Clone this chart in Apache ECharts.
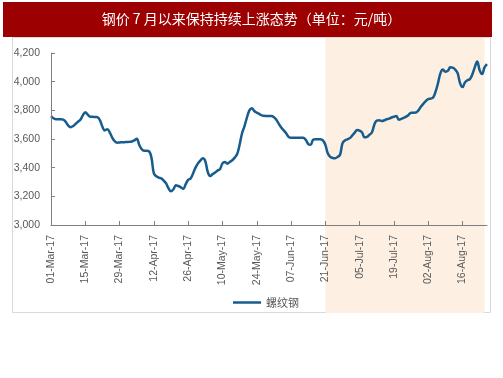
<!DOCTYPE html>
<html>
<head>
<meta charset="utf-8">
<script src="https://cdn.jsdelivr.net/npm/echarts@6/dist/echarts.min.js"></script>
<style>html,body{margin:0;padding:0;background:#fff;}#c{width:503px;height:378px;}</style>
</head>
<body>
<div id="c"></div>
<script>
var titleText = '钢价 7 月以来保持持续上涨态势（单位：元/吨）';
var seriesName = '螺纹钢';
var startDate = '2017-03-01';
var dayCount = 179;
var shadeStart = '21-Jun-17';
var shadeEnd = '25-Aug-17';
var yTicks = [3000, 3200, 3400, 3600, 3800, 4000, 4200];
var rebar = [
3760,3745,3738,3737,3737,3735,3720,3695,3682,3690,
3705,3720,3735,3765,3787,3770,3755,3755,3753,3752,
3730,3685,3660,3668,3645,3610,3585,3574,3576,3577,
3578,3579,3580,3583,3590,3602,3560,3530,3518,3518,
3515,3470,3360,3340,3330,3325,3310,3290,3255,3235,
3250,3278,3272,3263,3252,3285,3315,3325,3360,3400,
3430,3450,3465,3445,3370,3342,3355,3366,3380,3390,
3430,3440,3428,3440,3452,3470,3495,3560,3640,3690,
3750,3800,3815,3795,3784,3775,3765,3762,3761,3760,
3760,3752,3735,3705,3680,3660,3640,3615,3609,3609,
3609,3609,3609,3608,3595,3565,3560,3595,3598,3598,
3598,3590,3560,3500,3475,3468,3466,3475,3490,3570,
3590,3598,3606,3625,3645,3662,3658,3645,3612,3615,
3630,3645,3700,3728,3730,3726,3730,3738,3742,3750,
3755,3760,3735,3740,3748,3756,3768,3784,3784,3785,
3800,3825,3845,3865,3879,3882,3890,3930,3990,4060,
4085,4070,4075,4100,4098,4085,4060,3990,3962,3995,
4010,4017,4050,4100,4140,4080,4054,4100,4123
];

var months = ['Jan','Feb','Mar','Apr','May','Jun','Jul','Aug','Sep','Oct','Nov','Dec'];
var categories = [];
var d0 = new Date(startDate + 'T00:00:00Z');
for (var i = 0; i < dayCount; i++) {
  var d = new Date(d0.getTime() + i * 86400000);
  var dd = d.getUTCDate();
  categories.push((dd < 10 ? '0' : '') + dd + '-' + months[d.getUTCMonth()] + '-' + String(d.getUTCFullYear()).slice(2));
}

var chart = echarts.init(document.getElementById('c'), null, {renderer: 'canvas'});
var labelInterval = function (idx) { return idx % 14 === 0; };
var option = {
  animation: false,
  backgroundColor: '#ffffff',
  graphic: [
    {type: 'rect', z: -10, shape: {x: 3, y: 2, width: 489, height: 35}, style: {fill: '#9C0000'}},
    {type: 'rect', z: -10, shape: {x: 12.5, y: 37.5, width: 478, height: 275}, style: {fill: 'none', stroke: '#D9D9D9', lineWidth: 1}},
    {type: 'text', z: 10, left: 'center', top: 12, style: {text: titleText, fill: '#ffffff', font: '14px "Noto Sans CJK SC", sans-serif'}}
  ],
  legend: {
    data: [{name: seriesName, icon: 'rect'}],
    left: 228, top: 292,
    itemWidth: 28, itemHeight: 2.5, itemGap: 10,
    textStyle: {color: '#595959', fontSize: 11, fontFamily: '"Noto Sans CJK SC", sans-serif'}
  },
  grid: [
    {left: 51, right: 16, top: 53, bottom: 153, containLabel: false},
    {left: 51, right: 16, top: 38, bottom: 65, containLabel: false}
  ],
  xAxis: [
    {
      type: 'category', gridIndex: 0, data: categories, boundaryGap: false, z: 10,
      axisLine: {lineStyle: {color: '#7F7F7F', width: 1}},
      axisTick: {inside: true, length: 4, interval: labelInterval, lineStyle: {color: '#7F7F7F'}},
      axisLabel: {rotate: 90, interval: labelInterval, margin: 10, color: '#595959', fontSize: 10.5, fontFamily: 'Liberation Sans, Arial, sans-serif'},
      splitLine: {show: false}
    },
    {type: 'category', gridIndex: 1, data: categories, boundaryGap: false, show: false}
  ],
  yAxis: [
    {
      type: 'value', gridIndex: 0, min: yTicks[0], max: yTicks[yTicks.length - 1], interval: 200, z: 10,
      axisLine: {show: true, lineStyle: {color: '#7F7F7F', width: 1}},
      axisTick: {show: true, inside: true, length: 4, lineStyle: {color: '#7F7F7F'}},
      axisLabel: {margin: 11, color: '#595959', fontSize: 10.5, fontFamily: 'Liberation Sans, Arial, sans-serif',
        formatter: function (v) { return v.toLocaleString('en-US'); }},
      splitLine: {show: false}
    },
    {type: 'value', gridIndex: 1, show: false, min: 0, max: 1}
  ],
  series: [
    {
      type: 'line', name: '_shade', xAxisIndex: 1, yAxisIndex: 1, data: [], z: -5,
      silent: true,
      markArea: {silent: true, z: -5, itemStyle: {color: '#FDEFE1'}, data: [[{xAxis: shadeStart}, {xAxis: shadeEnd}]]}
    },
    {
      type: 'line', name: seriesName, xAxisIndex: 0, yAxisIndex: 0, data: rebar, z: 5,
      symbol: 'none', smooth: 0.4,
      lineStyle: {color: '#175C8E', width: 2.5},
      itemStyle: {color: '#175C8E'}
    }
  ]
};
chart.setOption(option);
</script>
</body>
</html>
